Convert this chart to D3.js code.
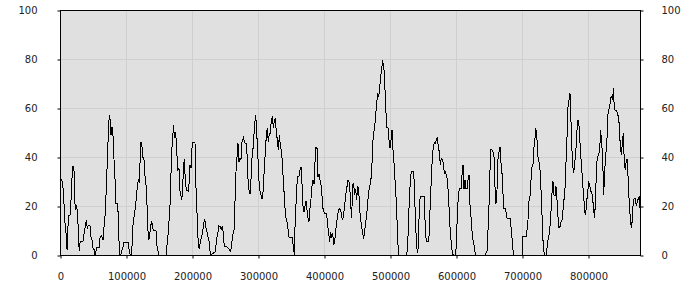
<!DOCTYPE html>
<html>
<head>
<meta charset="utf-8">
<script src="https://cdn.jsdelivr.net/npm/d3@7"></script>
<style>
body { margin: 0; background: #fff; }
#chart text { font-family: "DejaVu Sans", Verdana, sans-serif; font-size: 10px; fill: #222; }
</style>
</head>
<body>
<div id="chart"></div>
<script>
var width = 700;
var height = 300;

// x positions (bytes / samples) and values
var xs = [0,2525,4040,5555,7070,8585,10100,11110,11615,12625,15150,16160,17675,18685,20200,21210,22220,23735,25250,26765,28280,29290,30300,31815,34845,36865,38380,39895,41410,42925,45450,46965,48480,49995,51510,53025,54540,55550,59085,60600,63125,65145,66155,67670,69185,70700,71710,73225,74235,75245,76255,77265,78275,79790,80800,82315,83830,84840,87365,88375,89385,90395,91910,93425,95445,96960,103525,105040,106555,108575,110090,111100,113120,115140,116150,117160,118675,120190,121200,122715,124230,125240,127260,128270,129785,131300,132815,134330,135845,137360,138875,140390,142410,145440,146450,147965,149480,160590,161600,163115,164630,166650,167660,169175,170690,172205,173215,175235,176750,178265,180285,181295,182810,184325,185840,186850,188365,189880,191395,194425,195940,196950,198465,199980,201495,204525,205535,207050,208565,210080,211090,212605,214120,215635,217150,218665,220180,221695,223210,224725,226240,227755,232300,235330,237350,238865,240380,242400,244420,245935,247450,248965,252500,255530,258560,261616,263636,265151,266666,268181,269696,271212,272727,274242,275757,277777,280303,282827,284343,285858,287878,288888,290404,291919,293434,294949,295959,296969,297979,299494,301010,302525,304040,305555,307070,308080,309595,311111,312626,314141,315656,317171,318686,320202,321717,323232,324747,326262,327777,329292,330808,332323,333838,335858,337373,338888,340404,341919,343434,344949,346464,348484,352020,353535,355050,356565,358080,359595,362121,363636,365151,366666,368181,369696,371212,372727,374242,375757,377272,378787,380303,381818,383333,384848,386363,387878,389393,390909,392424,393939,395454,396969,398484,400000,401515,404040,405555,407070,408585,410101,411616,413131,414646,416161,417676,419191,420707,422222,423737,425252,426767,428282,429797,431313,432828,434343,435858,437373,438888,440404,441919,443434,444949,446464,447979,449494,451010,452525,454040,455555,457070,458585,460101,461616,463131,464646,466161,467676,469191,470707,472222,473737,475252,476767,478282,479797,481312,482828,484343,485858,487373,488888,489898,490909,492424,493939,495454,496969,498484,500000,501515,503030,504545,506060,507575,509090,510606,512121,513636,525252,526767,528282,529797,531313,532828,535858,536868,538383,539898,541414,542929,544444,545959,552020,553535,555050,558080,559595,561111,562626,564141,565656,567171,568686,570202,571717,573232,574747,576262,577777,579292,580808,582323,583838,585353,586868,588383,589898,591414,592929,594444,595959,598989,600505,602020,603535,605050,607575,609090,610606,612121,613636,615151,616666,618181,619696,621212,622727,624242,625757,627272,628787,630303,643939,645454,646969,648484,649999,651515,653030,654545,656060,657575,659090,660606,662121,663636,665151,666666,668181,669696,671212,672727,674242,675757,677272,681818,683333,684848,686363,687878,700000,701515,703030,706060,707575,709090,710606,712121,713636,715151,716666,718181,719696,720706,721716,722726,724241,725756,727271,728786,730301,731816,733331,734846,736361,737876,739391,740906,742421,743936,745451,746966,748481,749996,751511,753026,754541,756056,757571,759086,760601,762116,763631,765146,766661,768176,769691,771206,772721,773731,775246,776761,778276,779791,781306,782821,784336,785851,787366,788881,790396,791911,793426,794941,796456,797971,799486,801001,802516,804031,805546,807061,808576,810091,811606,813121,814636,816151,817666,819181,820696,822211,823726,825241,826756,828271,829786,831301,832816,834331,835846,837361,838371,839886,841401,842916,844431,845946,847461,848976,850491,852006,853521,855036,856551,858066,859581,861096,862611,864126,865641,867156,868671,870186,871701,873216,874731,876246,877761,878771];

var values = [31,31,28.6,24.5,13.6,12,3,2,7,16,16,20,26.5,36,36,34.7,22,19,20,17,5,1.5,5,5.5,5.5,9.5,11.6,14.3,11,12,12,7.5,6,2.7,2.3,0,1.4,3,3,7,8,6,10,13.6,20,32.7,37.5,50,55,57,54.5,49,52,52,45.6,36,28.6,21,21,15,6,0,0,1.4,3.4,5.2,5.2,1.4,0,0,10,14,17,22,25,28,30.6,29.5,37.5,46,44,40,39,33,30.6,25,12,6,8,11.6,14,11,10,10,4,2.7,0,0,2.7,6,11.6,20,28.6,42,48,53,47.7,50,44,34.7,35.4,27,24.5,23,24.5,36,39,30.6,26.5,26,30,36.8,35.4,43.6,46,46,30.6,22,8.9,3.4,2.3,5.4,6.8,8.9,11.6,14.3,13.6,10,8.9,6.8,5.4,0,0.7,1.4,6.8,8,12,11.6,10.5,11.6,8.9,3.4,3.4,2.7,1.4,8,10,22,34,40,45.6,38,39.5,39,46,48,45.6,45.6,33,27,25,26.5,39,41,48,52,57,55,50,43,32,27,25,23,23,28,35.4,42,49,52,46,49.7,49.7,55,56.5,52,54.5,55.9,50,47,43,49,45,42,34.7,28.6,21,15.7,14.3,12,7.5,7.2,7.2,3.4,0,17,22.5,32,32.3,34.7,36,29,20,17.7,20,22,18.4,15,13.6,19,23,28,30.6,29,38,44,43.6,32,33,30.6,28.6,24,19,17.7,17,17,12,8.9,5.4,9.5,6.8,8.9,4,5.4,10,13,16.3,18.4,19,18.4,15.7,14.3,17,20,24.5,26.5,30.6,30.6,28,21,15,28.6,29,24.5,27,22.5,28,27,18.4,14.3,11.6,8.9,6.4,10,13,16.3,21,26,28,30,33.4,45.6,49.7,52,57,62,65.4,64.7,68,73,75.6,79.7,77,75.6,67.4,58,52,52,47,43.6,47,51,43,37.5,30.6,24,14.3,4,0,0,3.4,15.7,25,32.7,34,34,28,15.7,6,0.7,3.4,20,24,24,10,5.4,5.4,8.9,22.5,30.6,40,44,46,45.6,47,48,44,42,36.8,39.5,39,37.5,33.4,34,32.7,30.6,25,17,8.9,4.8,0.7,0,0,3.4,17,24,27,27,32.7,36.8,27,30.6,27,27,30.6,32.7,20.4,15.7,10,6,4,1.4,0,0,0.7,1.4,10,20,34.7,43,43,42,40,28,21,26.5,39,42,44,37.5,33.4,25,19,19,17.7,15,15,11.6,6.8,2,0,0,7.5,7.5,7.5,10,14.3,22,24,30.6,36,36.8,44,47.7,52,49.7,47,40,38,34.7,26.5,16.3,6,1.4,0,0,2.7,6,8,11.6,17.7,25,30,24.5,24,28,22.5,15.7,11,11.6,13.6,14.3,18.4,22.5,27,37.5,48,60.5,63.4,66,59,45.6,36.8,33.4,37.5,41,49,55,55,48,41,36,28.6,24.5,17.7,16.3,22,25,30,28.6,26,26,23,18.4,15,25,37.5,40,41,43,51,45.6,40,24.5,33.4,41.5,43,56.5,59,60.5,64,64.7,63.4,68,60,59,59,58,56.5,53,44,41,45.6,49.7,37.5,34.7,39,39,29,21,15,11,14.3,22.5,23,23,20,22,23,24,19];

var xTicks = [0,100000,200000,300000,400000,500000,600000,700000,800000];
var yTicks = [0,20,40,60,80,100];

var margin = {left: 60, right: 60, top: 10, bottom: 45};
var plotW = width - margin.left - margin.right;
var plotH = height - margin.top - margin.bottom;

var svg = d3.select("#chart").append("svg")
    .attr("width", width)
    .attr("height", height);

var scaleX = d3.scaleLinear()
    .domain([0, 878788])
    .range([0, plotW]);

var scaleY = d3.scaleLinear()
    .domain([0, 100])
    .range([plotH, 0]);

var g = svg.append("g")
    .attr("transform", "translate(" + margin.left + "," + margin.top + ")");

//plot background
g.append("rect")
    .attr("width", plotW)
    .attr("height", plotH)
    .attr("fill", "#e0e0e0");

//grid
g.selectAll(".vgrid")
    .data(xTicks.slice(1))
    .enter()
    .append("line")
    .attr("x1", function(d){ return Math.round(scaleX(d)) + 0.5; })
    .attr("x2", function(d){ return Math.round(scaleX(d)) + 0.5; })
    .attr("y1", 0)
    .attr("y2", plotH)
    .attr("stroke", "#cfcfcf");

g.selectAll(".hgrid")
    .data(yTicks.slice(1, -1))
    .enter()
    .append("line")
    .attr("x1", 0)
    .attr("x2", plotW)
    .attr("y1", function(d){ return Math.round(scaleY(d)) + 0.5; })
    .attr("y2", function(d){ return Math.round(scaleY(d)) + 0.5; })
    .attr("stroke", "#cfcfcf");

//data line
var points = xs.map(function(x, i){ return [x, values[i]]; });

var line = d3.line()
    .x(function(d){ return scaleX(d[0]); })
    .y(function(d){ return scaleY(d[1]); });

g.append("path")
    .datum(points)
    .attr("d", line)
    .attr("fill", "none")
    .attr("stroke", "#000")
    .attr("stroke-width", 1)
    .attr("shape-rendering", "crispEdges");

//border
g.append("rect")
    .attr("x", 0.5)
    .attr("y", 0.5)
    .attr("width", plotW)
    .attr("height", plotH)
    .attr("fill", "none")
    .attr("stroke", "#000");

//axes
var x_axis = d3.axisBottom(scaleX)
    .tickValues(xTicks)
    .tickFormat(d3.format("d"))
    .tickSize(3)
    .tickPadding(14);

var y_left = d3.axisLeft(scaleY)
    .tickValues(yTicks)
    .tickSize(3)
    .tickPadding(20);

var y_right = d3.axisRight(scaleY)
    .tickValues(yTicks)
    .tickSize(3)
    .tickPadding(18);

g.append("g")
    .attr("transform", "translate(0.5," + (plotH + 0.5) + ")")
    .call(x_axis);

g.append("g")
    .attr("transform", "translate(0.5,0.5)")
    .call(y_left);

g.append("g")
    .attr("transform", "translate(" + (plotW + 0.5) + ",0.5)")
    .call(y_right);

svg.selectAll(".domain").remove();
svg.selectAll(".tick line").attr("stroke", "#000");
</script>
</body>
</html>
